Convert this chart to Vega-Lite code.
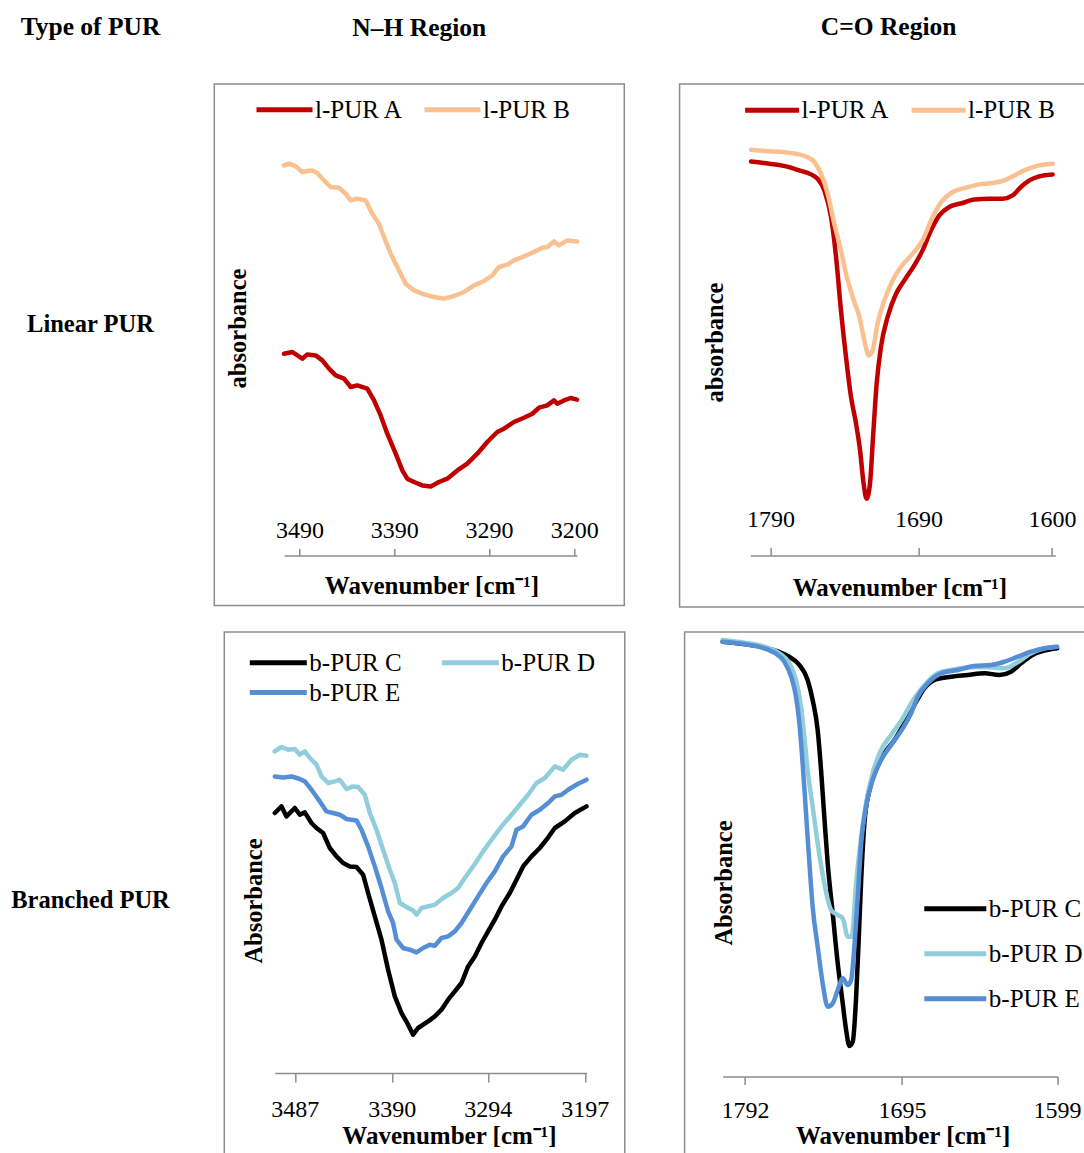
{
  "$schema": "https://vega.github.io/schema/vega-lite/v6.json",
  "padding": {"left": 0, "top": 14, "right": 0, "bottom": 0},
  "spacing": 23,
  "resolve": {"scale": {"color": "independent"}, "legend": {"color": "independent"}},
  "config": {
    "font": "Liberation Serif",
    "view": {"stroke": "#8c8c8c", "strokeWidth": 1.5},
    "axis": {"grid": false, "labelFont": "Liberation Serif", "titleFont": "Liberation Serif", "labelColor": "#000", "titleColor": "#000", "domainColor": "#8c8c8c", "tickColor": "#8c8c8c", "domainWidth": 1.5, "tickWidth": 1.5, "labelFontSize": 24, "titleFontSize": 25, "titleFontWeight": "bold", "labelFlush": false, "labelOverlap": false, "labelBound": false, "format": "d"},
    "legend": {"labelFont": "Liberation Serif", "labelFontSize": 25, "labelColor": "#000", "symbolType": "stroke", "symbolStrokeWidth": 5, "labelLimit": 0},
    "title": {"font": "Liberation Serif", "fontSize": 25.5, "fontWeight": "bold", "color": "#000"}
  },
  "vconcat": [
    {
      "spacing": 55.3,
      "bounds": "flush",
      "resolve": {"scale": {"color": "independent"}, "legend": {"color": "independent"}},
      "hconcat": [
        {
          "width": 159, "height": 521.4,
          "view": {"stroke": null},
          "title": {"text": "Type of PUR", "anchor": "middle", "frame": "group", "baseline": "alphabetic", "offset": 23.8, "dx": 11},
          "data": {"values": [{"label": "Linear PUR"}]},
          "mark": {"type": "text", "font": "Liberation Serif", "fontSize": 24.5, "fontWeight": "bold", "color": "#000", "baseline": "middle", "dx": 11, "dy": -20},
          "encoding": {"text": {"field": "label"}}
        },
        {
          "width": 410, "height": 521.4,
          "title": {"text": "N–H Region", "anchor": "middle", "frame": "group", "baseline": "alphabetic", "offset": 17.8},
          "data": {"values": [
            {"sample": "l-PUR A", "wavenumber": 3506.5, "absorbance": 251.7},
            {"sample": "l-PUR A", "wavenumber": 3497.7, "absorbance": 253.4},
            {"sample": "l-PUR A", "wavenumber": 3487.2, "absorbance": 246.7},
            {"sample": "l-PUR A", "wavenumber": 3481.9, "absorbance": 251.0},
            {"sample": "l-PUR A", "wavenumber": 3473.0, "absorbance": 250.0},
            {"sample": "l-PUR A", "wavenumber": 3466.0, "absorbance": 245.0},
            {"sample": "l-PUR A", "wavenumber": 3459.0, "absorbance": 236.7},
            {"sample": "l-PUR A", "wavenumber": 3451.9, "absorbance": 230.0},
            {"sample": "l-PUR A", "wavenumber": 3443.1, "absorbance": 226.7},
            {"sample": "l-PUR A", "wavenumber": 3436.0, "absorbance": 218.4},
            {"sample": "l-PUR A", "wavenumber": 3429.1, "absorbance": 220.0},
            {"sample": "l-PUR A", "wavenumber": 3418.5, "absorbance": 216.7},
            {"sample": "l-PUR A", "wavenumber": 3411.4, "absorbance": 205.0},
            {"sample": "l-PUR A", "wavenumber": 3404.4, "absorbance": 190.0},
            {"sample": "l-PUR A", "wavenumber": 3397.4, "absorbance": 171.7},
            {"sample": "l-PUR A", "wavenumber": 3388.5, "absorbance": 151.7},
            {"sample": "l-PUR A", "wavenumber": 3381.5, "absorbance": 135.0},
            {"sample": "l-PUR A", "wavenumber": 3376.3, "absorbance": 126.7},
            {"sample": "l-PUR A", "wavenumber": 3369.2, "absorbance": 123.4},
            {"sample": "l-PUR A", "wavenumber": 3360.4, "absorbance": 120.0},
            {"sample": "l-PUR A", "wavenumber": 3351.5, "absorbance": 119.0},
            {"sample": "l-PUR A", "wavenumber": 3342.8, "absorbance": 123.4},
            {"sample": "l-PUR A", "wavenumber": 3334.0, "absorbance": 126.7},
            {"sample": "l-PUR A", "wavenumber": 3323.4, "absorbance": 135.0},
            {"sample": "l-PUR A", "wavenumber": 3312.9, "absorbance": 141.7},
            {"sample": "l-PUR A", "wavenumber": 3302.3, "absorbance": 151.7},
            {"sample": "l-PUR A", "wavenumber": 3291.8, "absorbance": 163.4},
            {"sample": "l-PUR A", "wavenumber": 3281.2, "absorbance": 173.4},
            {"sample": "l-PUR A", "wavenumber": 3274.1, "absorbance": 176.7},
            {"sample": "l-PUR A", "wavenumber": 3263.6, "absorbance": 183.4},
            {"sample": "l-PUR A", "wavenumber": 3253.0, "absorbance": 187.7},
            {"sample": "l-PUR A", "wavenumber": 3244.2, "absorbance": 191.7},
            {"sample": "l-PUR A", "wavenumber": 3237.1, "absorbance": 197.7},
            {"sample": "l-PUR A", "wavenumber": 3228.4, "absorbance": 200.0},
            {"sample": "l-PUR A", "wavenumber": 3221.3, "absorbance": 205.0},
            {"sample": "l-PUR A", "wavenumber": 3217.8, "absorbance": 201.7},
            {"sample": "l-PUR A", "wavenumber": 3210.7, "absorbance": 205.0},
            {"sample": "l-PUR A", "wavenumber": 3203.7, "absorbance": 207.4},
            {"sample": "l-PUR A", "wavenumber": 3197.0, "absorbance": 205.7},
            {"sample": "l-PUR B", "wavenumber": 3506.5, "absorbance": 440.0},
            {"sample": "l-PUR B", "wavenumber": 3501.2, "absorbance": 441.7},
            {"sample": "l-PUR B", "wavenumber": 3494.1, "absorbance": 439.0},
            {"sample": "l-PUR B", "wavenumber": 3487.2, "absorbance": 433.4},
            {"sample": "l-PUR B", "wavenumber": 3481.9, "absorbance": 434.4},
            {"sample": "l-PUR B", "wavenumber": 3476.6, "absorbance": 435.0},
            {"sample": "l-PUR B", "wavenumber": 3471.3, "absorbance": 432.4},
            {"sample": "l-PUR B", "wavenumber": 3464.3, "absorbance": 425.0},
            {"sample": "l-PUR B", "wavenumber": 3457.2, "absorbance": 418.4},
            {"sample": "l-PUR B", "wavenumber": 3448.4, "absorbance": 417.7},
            {"sample": "l-PUR B", "wavenumber": 3441.3, "absorbance": 411.7},
            {"sample": "l-PUR B", "wavenumber": 3436.0, "absorbance": 405.0},
            {"sample": "l-PUR B", "wavenumber": 3429.1, "absorbance": 406.7},
            {"sample": "l-PUR B", "wavenumber": 3420.2, "absorbance": 405.0},
            {"sample": "l-PUR B", "wavenumber": 3413.2, "absorbance": 391.7},
            {"sample": "l-PUR B", "wavenumber": 3406.2, "absorbance": 381.7},
            {"sample": "l-PUR B", "wavenumber": 3400.9, "absorbance": 368.4},
            {"sample": "l-PUR B", "wavenumber": 3393.8, "absorbance": 351.7},
            {"sample": "l-PUR B", "wavenumber": 3385.0, "absorbance": 335.0},
            {"sample": "l-PUR B", "wavenumber": 3378.0, "absorbance": 321.7},
            {"sample": "l-PUR B", "wavenumber": 3369.2, "absorbance": 315.0},
            {"sample": "l-PUR B", "wavenumber": 3358.6, "absorbance": 311.0},
            {"sample": "l-PUR B", "wavenumber": 3348.1, "absorbance": 308.4},
            {"sample": "l-PUR B", "wavenumber": 3337.5, "absorbance": 306.7},
            {"sample": "l-PUR B", "wavenumber": 3326.9, "absorbance": 309.4},
            {"sample": "l-PUR B", "wavenumber": 3316.4, "absorbance": 313.4},
            {"sample": "l-PUR B", "wavenumber": 3305.8, "absorbance": 320.0},
            {"sample": "l-PUR B", "wavenumber": 3295.2, "absorbance": 324.4},
            {"sample": "l-PUR B", "wavenumber": 3286.5, "absorbance": 330.0},
            {"sample": "l-PUR B", "wavenumber": 3279.4, "absorbance": 338.4},
            {"sample": "l-PUR B", "wavenumber": 3270.6, "absorbance": 340.7},
            {"sample": "l-PUR B", "wavenumber": 3263.6, "absorbance": 345.0},
            {"sample": "l-PUR B", "wavenumber": 3253.0, "absorbance": 349.0},
            {"sample": "l-PUR B", "wavenumber": 3242.4, "absorbance": 353.4},
            {"sample": "l-PUR B", "wavenumber": 3233.7, "absorbance": 357.7},
            {"sample": "l-PUR B", "wavenumber": 3228.4, "absorbance": 358.4},
            {"sample": "l-PUR B", "wavenumber": 3221.3, "absorbance": 364.0},
            {"sample": "l-PUR B", "wavenumber": 3216.0, "absorbance": 360.0},
            {"sample": "l-PUR B", "wavenumber": 3207.3, "absorbance": 365.0},
            {"sample": "l-PUR B", "wavenumber": 3197.0, "absorbance": 364.0}
          ]},
          "mark": {"type": "line", "strokeWidth": 4.5, "strokeCap": "round", "strokeJoin": "round"},
          "encoding": {
            "x": {"field": "wavenumber", "type": "quantitative",
              "scale": {"domain": [3506.5, 3197], "range": [69.7, 362.7], "nice": false, "zero": false},
              "axis": {"orient": "top", "offset": -471.4, "values": [3490, 3390, 3290, 3200], "tickSize": 7, "labelPadding": 6, "title": "Wavenumber [cm⁻¹]", "titleX": 217.2, "titleY": 38.3, "titleBaseline": "alphabetic", "titleAlign": "center"}},
            "y": {"field": "absorbance", "type": "quantitative",
              "scale": {"domain": [0, 521.4], "nice": false, "zero": false},
              "axis": {"orient": "left", "domain": false, "ticks": false, "labels": false, "title": "absorbance", "titleFontSize": 24.5, "titleX": 31.4, "titleY": 244, "titleAngle": 270, "titleBaseline": "alphabetic", "titleAlign": "center"}},
            "color": {"field": "sample", "type": "nominal",
              "scale": {"domain": ["l-PUR A", "l-PUR B"], "range": ["#C00000", "#FAC090"]},
              "legend": {"title": null, "orient": "none", "legendX": 39.7, "legendY": -5.1, "direction": "horizontal", "symbolSize": 3136, "labelOffset": 0, "columnPadding": 10}}
          }
        },
        {
          "width": 418, "height": 523,
          "title": {"text": "C=O Region", "anchor": "middle", "frame": "group", "baseline": "alphabetic", "offset": 19.8},
          "data": {"values": [
            {"sample": "l-PUR A", "wavenumber": 1803.1, "absorbance": 445.6},
            {"sample": "l-PUR A", "wavenumber": 1790.8, "absorbance": 443.3},
            {"sample": "l-PUR A", "wavenumber": 1779.5, "absorbance": 440.6},
            {"sample": "l-PUR A", "wavenumber": 1770.5, "absorbance": 436.6},
            {"sample": "l-PUR A", "wavenumber": 1762.6, "absorbance": 432.6},
            {"sample": "l-PUR A", "wavenumber": 1758.2, "absorbance": 428.3},
            {"sample": "l-PUR A", "wavenumber": 1753.6, "absorbance": 416.6},
            {"sample": "l-PUR A", "wavenumber": 1749.1, "absorbance": 390.0},
            {"sample": "l-PUR A", "wavenumber": 1745.7, "absorbance": 350.0},
            {"sample": "l-PUR A", "wavenumber": 1742.4, "absorbance": 296.6},
            {"sample": "l-PUR A", "wavenumber": 1739.0, "absorbance": 250.0},
            {"sample": "l-PUR A", "wavenumber": 1735.6, "absorbance": 210.0},
            {"sample": "l-PUR A", "wavenumber": 1732.2, "absorbance": 183.3},
            {"sample": "l-PUR A", "wavenumber": 1729.5, "absorbance": 156.6},
            {"sample": "l-PUR A", "wavenumber": 1727.1, "absorbance": 123.3},
            {"sample": "l-PUR A", "wavenumber": 1725.1, "absorbance": 108.3},
            {"sample": "l-PUR A", "wavenumber": 1722.8, "absorbance": 123.3},
            {"sample": "l-PUR A", "wavenumber": 1720.6, "absorbance": 173.3},
            {"sample": "l-PUR A", "wavenumber": 1718.3, "absorbance": 223.3},
            {"sample": "l-PUR A", "wavenumber": 1715.4, "absorbance": 260.0},
            {"sample": "l-PUR A", "wavenumber": 1710.9, "absorbance": 290.0},
            {"sample": "l-PUR A", "wavenumber": 1705.2, "absorbance": 313.3},
            {"sample": "l-PUR A", "wavenumber": 1699.6, "absorbance": 326.6},
            {"sample": "l-PUR A", "wavenumber": 1692.9, "absorbance": 341.6},
            {"sample": "l-PUR A", "wavenumber": 1687.3, "absorbance": 356.6},
            {"sample": "l-PUR A", "wavenumber": 1681.6, "absorbance": 376.6},
            {"sample": "l-PUR A", "wavenumber": 1676.0, "absorbance": 391.6},
            {"sample": "l-PUR A", "wavenumber": 1669.3, "absorbance": 400.0},
            {"sample": "l-PUR A", "wavenumber": 1660.3, "absorbance": 404.0},
            {"sample": "l-PUR A", "wavenumber": 1652.4, "absorbance": 407.6},
            {"sample": "l-PUR A", "wavenumber": 1642.2, "absorbance": 408.3},
            {"sample": "l-PUR A", "wavenumber": 1633.3, "absorbance": 408.3},
            {"sample": "l-PUR A", "wavenumber": 1626.5, "absorbance": 411.6},
            {"sample": "l-PUR A", "wavenumber": 1620.9, "absorbance": 420.0},
            {"sample": "l-PUR A", "wavenumber": 1615.2, "absorbance": 426.6},
            {"sample": "l-PUR A", "wavenumber": 1608.5, "absorbance": 430.6},
            {"sample": "l-PUR A", "wavenumber": 1599.5, "absorbance": 432.6},
            {"sample": "l-PUR B", "wavenumber": 1803.1, "absorbance": 457.3},
            {"sample": "l-PUR B", "wavenumber": 1793.0, "absorbance": 456.0},
            {"sample": "l-PUR B", "wavenumber": 1781.8, "absorbance": 455.0},
            {"sample": "l-PUR B", "wavenumber": 1772.8, "absorbance": 453.3},
            {"sample": "l-PUR B", "wavenumber": 1766.0, "absorbance": 450.6},
            {"sample": "l-PUR B", "wavenumber": 1760.4, "absorbance": 445.0},
            {"sample": "l-PUR B", "wavenumber": 1755.9, "absorbance": 433.3},
            {"sample": "l-PUR B", "wavenumber": 1751.4, "absorbance": 413.3},
            {"sample": "l-PUR B", "wavenumber": 1746.9, "absorbance": 383.3},
            {"sample": "l-PUR B", "wavenumber": 1742.4, "absorbance": 356.6},
            {"sample": "l-PUR B", "wavenumber": 1739.0, "absorbance": 333.3},
            {"sample": "l-PUR B", "wavenumber": 1734.5, "absorbance": 310.0},
            {"sample": "l-PUR B", "wavenumber": 1730.0, "absorbance": 290.0},
            {"sample": "l-PUR B", "wavenumber": 1726.6, "absorbance": 266.6},
            {"sample": "l-PUR B", "wavenumber": 1723.7, "absorbance": 251.6},
            {"sample": "l-PUR B", "wavenumber": 1721.0, "absorbance": 256.6},
            {"sample": "l-PUR B", "wavenumber": 1717.7, "absorbance": 283.3},
            {"sample": "l-PUR B", "wavenumber": 1713.1, "absorbance": 306.6},
            {"sample": "l-PUR B", "wavenumber": 1707.5, "absorbance": 326.6},
            {"sample": "l-PUR B", "wavenumber": 1701.9, "absorbance": 340.0},
            {"sample": "l-PUR B", "wavenumber": 1694.0, "absorbance": 353.3},
            {"sample": "l-PUR B", "wavenumber": 1687.3, "absorbance": 366.6},
            {"sample": "l-PUR B", "wavenumber": 1680.5, "absorbance": 390.0},
            {"sample": "l-PUR B", "wavenumber": 1673.8, "absorbance": 406.6},
            {"sample": "l-PUR B", "wavenumber": 1667.0, "absorbance": 415.0},
            {"sample": "l-PUR B", "wavenumber": 1658.0, "absorbance": 419.3},
            {"sample": "l-PUR B", "wavenumber": 1649.0, "absorbance": 422.6},
            {"sample": "l-PUR B", "wavenumber": 1640.0, "absorbance": 424.0},
            {"sample": "l-PUR B", "wavenumber": 1633.3, "absorbance": 426.0},
            {"sample": "l-PUR B", "wavenumber": 1626.5, "absorbance": 430.6},
            {"sample": "l-PUR B", "wavenumber": 1617.5, "absorbance": 437.3},
            {"sample": "l-PUR B", "wavenumber": 1608.5, "absorbance": 441.6},
            {"sample": "l-PUR B", "wavenumber": 1599.5, "absorbance": 443.3}
          ]},
          "mark": {"type": "line", "strokeWidth": 4.5, "strokeCap": "round", "strokeJoin": "round", "interpolate": "monotone"},
          "encoding": {
            "x": {"field": "wavenumber", "type": "quantitative",
              "scale": {"domain": [1803.6, 1597.7], "range": [70.7, 375.7], "nice": false, "zero": false},
              "axis": {"orient": "top", "offset": -471.4, "values": [1790, 1690, 1600], "tickSize": 8, "labelPadding": 15.6, "title": "Wavenumber [cm⁻¹]", "titleX": 219.7, "titleY": 40, "titleBaseline": "alphabetic", "titleAlign": "center"}},
            "y": {"field": "absorbance", "type": "quantitative",
              "scale": {"domain": [0, 523], "nice": false, "zero": false},
              "axis": {"orient": "left", "domain": false, "ticks": false, "labels": false, "title": "absorbance", "titleFontSize": 24.5, "titleX": 43, "titleY": 258, "titleAngle": 270, "titleBaseline": "alphabetic", "titleAlign": "center"}},
            "color": {"field": "sample", "type": "nominal",
              "scale": {"domain": ["l-PUR A", "l-PUR B"], "range": ["#C00000", "#FAC090"]},
              "legend": {"title": null, "orient": "none", "legendX": 63, "legendY": -3.5, "direction": "horizontal", "symbolSize": 2916, "labelOffset": 0, "columnPadding": 10.5}}
          }
        }
      ]
    },
    {
      "spacing": 59.3,
      "bounds": "flush",
      "resolve": {"scale": {"color": "independent"}, "legend": {"color": "independent"}},
      "hconcat": [
        {
          "width": 164.2, "height": 540,
          "view": {"stroke": null},
          "data": {"values": [{"label": "Branched PUR"}]},
          "mark": {"type": "text", "font": "Liberation Serif", "fontSize": 24.5, "fontWeight": "bold", "color": "#000", "baseline": "middle", "dx": 8.4, "dy": -1},
          "encoding": {"text": {"field": "label"}}
        },
        {
          "width": 400.5, "height": 540,
          "data": {"values": [
            {"sample": "b-PUR C", "wavenumber": 3507.0, "absorbance": 359.0},
            {"sample": "b-PUR C", "wavenumber": 3500.3, "absorbance": 365.6},
            {"sample": "b-PUR C", "wavenumber": 3495.3, "absorbance": 355.6},
            {"sample": "b-PUR C", "wavenumber": 3487.0, "absorbance": 364.0},
            {"sample": "b-PUR C", "wavenumber": 3482.0, "absorbance": 357.3},
            {"sample": "b-PUR C", "wavenumber": 3477.0, "absorbance": 359.6},
            {"sample": "b-PUR C", "wavenumber": 3470.3, "absorbance": 349.0},
            {"sample": "b-PUR C", "wavenumber": 3465.3, "absorbance": 344.0},
            {"sample": "b-PUR C", "wavenumber": 3458.7, "absorbance": 339.0},
            {"sample": "b-PUR C", "wavenumber": 3452.0, "absorbance": 324.0},
            {"sample": "b-PUR C", "wavenumber": 3445.3, "absorbance": 315.6},
            {"sample": "b-PUR C", "wavenumber": 3438.7, "absorbance": 309.0},
            {"sample": "b-PUR C", "wavenumber": 3432.0, "absorbance": 305.6},
            {"sample": "b-PUR C", "wavenumber": 3425.3, "absorbance": 305.0},
            {"sample": "b-PUR C", "wavenumber": 3418.7, "absorbance": 297.3},
            {"sample": "b-PUR C", "wavenumber": 3413.7, "absorbance": 279.0},
            {"sample": "b-PUR C", "wavenumber": 3407.0, "absorbance": 255.6},
            {"sample": "b-PUR C", "wavenumber": 3400.3, "absorbance": 232.3},
            {"sample": "b-PUR C", "wavenumber": 3393.7, "absorbance": 202.3},
            {"sample": "b-PUR C", "wavenumber": 3387.0, "absorbance": 175.6},
            {"sample": "b-PUR C", "wavenumber": 3380.3, "absorbance": 159.0},
            {"sample": "b-PUR C", "wavenumber": 3373.7, "absorbance": 147.3},
            {"sample": "b-PUR C", "wavenumber": 3368.7, "absorbance": 137.3},
            {"sample": "b-PUR C", "wavenumber": 3363.7, "absorbance": 144.0},
            {"sample": "b-PUR C", "wavenumber": 3358.7, "absorbance": 147.3},
            {"sample": "b-PUR C", "wavenumber": 3353.7, "absorbance": 150.6},
            {"sample": "b-PUR C", "wavenumber": 3347.0, "absorbance": 155.6},
            {"sample": "b-PUR C", "wavenumber": 3340.3, "absorbance": 162.3},
            {"sample": "b-PUR C", "wavenumber": 3333.7, "absorbance": 172.3},
            {"sample": "b-PUR C", "wavenumber": 3327.0, "absorbance": 180.6},
            {"sample": "b-PUR C", "wavenumber": 3320.3, "absorbance": 189.0},
            {"sample": "b-PUR C", "wavenumber": 3313.7, "absorbance": 205.6},
            {"sample": "b-PUR C", "wavenumber": 3307.0, "absorbance": 215.6},
            {"sample": "b-PUR C", "wavenumber": 3300.3, "absorbance": 229.0},
            {"sample": "b-PUR C", "wavenumber": 3293.7, "absorbance": 240.6},
            {"sample": "b-PUR C", "wavenumber": 3287.0, "absorbance": 252.3},
            {"sample": "b-PUR C", "wavenumber": 3280.3, "absorbance": 265.6},
            {"sample": "b-PUR C", "wavenumber": 3272.0, "absorbance": 279.0},
            {"sample": "b-PUR C", "wavenumber": 3265.3, "absorbance": 292.3},
            {"sample": "b-PUR C", "wavenumber": 3258.7, "absorbance": 305.6},
            {"sample": "b-PUR C", "wavenumber": 3250.3, "absorbance": 315.6},
            {"sample": "b-PUR C", "wavenumber": 3242.0, "absorbance": 324.0},
            {"sample": "b-PUR C", "wavenumber": 3235.3, "absorbance": 332.3},
            {"sample": "b-PUR C", "wavenumber": 3227.0, "absorbance": 344.0},
            {"sample": "b-PUR C", "wavenumber": 3217.0, "absorbance": 350.6},
            {"sample": "b-PUR C", "wavenumber": 3207.0, "absorbance": 359.0},
            {"sample": "b-PUR C", "wavenumber": 3195.3, "absorbance": 365.6},
            {"sample": "b-PUR D", "wavenumber": 3507.0, "absorbance": 420.6},
            {"sample": "b-PUR D", "wavenumber": 3500.3, "absorbance": 425.0},
            {"sample": "b-PUR D", "wavenumber": 3493.7, "absorbance": 422.3},
            {"sample": "b-PUR D", "wavenumber": 3487.0, "absorbance": 423.0},
            {"sample": "b-PUR D", "wavenumber": 3482.0, "absorbance": 417.3},
            {"sample": "b-PUR D", "wavenumber": 3477.0, "absorbance": 420.6},
            {"sample": "b-PUR D", "wavenumber": 3472.0, "absorbance": 414.0},
            {"sample": "b-PUR D", "wavenumber": 3465.3, "absorbance": 407.3},
            {"sample": "b-PUR D", "wavenumber": 3460.3, "absorbance": 395.6},
            {"sample": "b-PUR D", "wavenumber": 3453.7, "absorbance": 389.0},
            {"sample": "b-PUR D", "wavenumber": 3447.0, "absorbance": 390.6},
            {"sample": "b-PUR D", "wavenumber": 3442.0, "absorbance": 392.3},
            {"sample": "b-PUR D", "wavenumber": 3435.3, "absorbance": 383.0},
            {"sample": "b-PUR D", "wavenumber": 3428.7, "absorbance": 385.6},
            {"sample": "b-PUR D", "wavenumber": 3423.7, "absorbance": 385.0},
            {"sample": "b-PUR D", "wavenumber": 3417.0, "absorbance": 377.3},
            {"sample": "b-PUR D", "wavenumber": 3412.0, "absorbance": 359.0},
            {"sample": "b-PUR D", "wavenumber": 3405.3, "absorbance": 342.3},
            {"sample": "b-PUR D", "wavenumber": 3398.7, "absorbance": 322.3},
            {"sample": "b-PUR D", "wavenumber": 3392.0, "absorbance": 302.3},
            {"sample": "b-PUR D", "wavenumber": 3387.0, "absorbance": 289.0},
            {"sample": "b-PUR D", "wavenumber": 3382.0, "absorbance": 269.0},
            {"sample": "b-PUR D", "wavenumber": 3375.3, "absorbance": 265.0},
            {"sample": "b-PUR D", "wavenumber": 3368.7, "absorbance": 261.6},
            {"sample": "b-PUR D", "wavenumber": 3365.3, "absorbance": 257.3},
            {"sample": "b-PUR D", "wavenumber": 3360.3, "absorbance": 264.0},
            {"sample": "b-PUR D", "wavenumber": 3353.7, "absorbance": 265.6},
            {"sample": "b-PUR D", "wavenumber": 3347.0, "absorbance": 267.3},
            {"sample": "b-PUR D", "wavenumber": 3338.7, "absorbance": 274.0},
            {"sample": "b-PUR D", "wavenumber": 3330.3, "absorbance": 279.0},
            {"sample": "b-PUR D", "wavenumber": 3323.7, "absorbance": 284.0},
            {"sample": "b-PUR D", "wavenumber": 3317.0, "absorbance": 294.0},
            {"sample": "b-PUR D", "wavenumber": 3308.7, "absorbance": 305.6},
            {"sample": "b-PUR D", "wavenumber": 3298.7, "absorbance": 320.6},
            {"sample": "b-PUR D", "wavenumber": 3290.3, "absorbance": 332.3},
            {"sample": "b-PUR D", "wavenumber": 3280.3, "absorbance": 345.6},
            {"sample": "b-PUR D", "wavenumber": 3270.3, "absorbance": 357.3},
            {"sample": "b-PUR D", "wavenumber": 3262.0, "absorbance": 367.3},
            {"sample": "b-PUR D", "wavenumber": 3253.7, "absorbance": 377.3},
            {"sample": "b-PUR D", "wavenumber": 3245.3, "absorbance": 389.0},
            {"sample": "b-PUR D", "wavenumber": 3237.0, "absorbance": 394.0},
            {"sample": "b-PUR D", "wavenumber": 3227.0, "absorbance": 405.6},
            {"sample": "b-PUR D", "wavenumber": 3218.7, "absorbance": 402.3},
            {"sample": "b-PUR D", "wavenumber": 3210.3, "absorbance": 412.3},
            {"sample": "b-PUR D", "wavenumber": 3202.0, "absorbance": 417.3},
            {"sample": "b-PUR D", "wavenumber": 3195.3, "absorbance": 416.3},
            {"sample": "b-PUR E", "wavenumber": 3507.0, "absorbance": 395.6},
            {"sample": "b-PUR E", "wavenumber": 3498.7, "absorbance": 394.6},
            {"sample": "b-PUR E", "wavenumber": 3490.3, "absorbance": 395.6},
            {"sample": "b-PUR E", "wavenumber": 3482.0, "absorbance": 393.0},
            {"sample": "b-PUR E", "wavenumber": 3477.0, "absorbance": 390.6},
            {"sample": "b-PUR E", "wavenumber": 3470.3, "absorbance": 382.3},
            {"sample": "b-PUR E", "wavenumber": 3462.0, "absorbance": 370.6},
            {"sample": "b-PUR E", "wavenumber": 3455.3, "absorbance": 360.6},
            {"sample": "b-PUR E", "wavenumber": 3448.7, "absorbance": 359.0},
            {"sample": "b-PUR E", "wavenumber": 3442.0, "absorbance": 357.3},
            {"sample": "b-PUR E", "wavenumber": 3435.3, "absorbance": 353.0},
            {"sample": "b-PUR E", "wavenumber": 3425.3, "absorbance": 351.6},
            {"sample": "b-PUR E", "wavenumber": 3420.3, "absorbance": 342.3},
            {"sample": "b-PUR E", "wavenumber": 3413.7, "absorbance": 325.6},
            {"sample": "b-PUR E", "wavenumber": 3407.0, "absorbance": 305.6},
            {"sample": "b-PUR E", "wavenumber": 3400.3, "absorbance": 284.0},
            {"sample": "b-PUR E", "wavenumber": 3393.7, "absorbance": 260.6},
            {"sample": "b-PUR E", "wavenumber": 3388.7, "absorbance": 249.0},
            {"sample": "b-PUR E", "wavenumber": 3385.3, "absorbance": 232.3},
            {"sample": "b-PUR E", "wavenumber": 3378.7, "absorbance": 224.0},
            {"sample": "b-PUR E", "wavenumber": 3372.0, "absorbance": 222.3},
            {"sample": "b-PUR E", "wavenumber": 3365.3, "absorbance": 219.6},
            {"sample": "b-PUR E", "wavenumber": 3358.7, "absorbance": 224.0},
            {"sample": "b-PUR E", "wavenumber": 3352.0, "absorbance": 227.3},
            {"sample": "b-PUR E", "wavenumber": 3347.0, "absorbance": 226.3},
            {"sample": "b-PUR E", "wavenumber": 3340.3, "absorbance": 234.0},
            {"sample": "b-PUR E", "wavenumber": 3333.7, "absorbance": 235.6},
            {"sample": "b-PUR E", "wavenumber": 3327.0, "absorbance": 240.6},
            {"sample": "b-PUR E", "wavenumber": 3320.3, "absorbance": 249.0},
            {"sample": "b-PUR E", "wavenumber": 3312.0, "absorbance": 262.3},
            {"sample": "b-PUR E", "wavenumber": 3303.7, "absorbance": 275.6},
            {"sample": "b-PUR E", "wavenumber": 3295.3, "absorbance": 289.0},
            {"sample": "b-PUR E", "wavenumber": 3287.0, "absorbance": 300.6},
            {"sample": "b-PUR E", "wavenumber": 3278.7, "absorbance": 315.6},
            {"sample": "b-PUR E", "wavenumber": 3270.3, "absorbance": 325.6},
            {"sample": "b-PUR E", "wavenumber": 3265.3, "absorbance": 342.3},
            {"sample": "b-PUR E", "wavenumber": 3258.7, "absorbance": 345.6},
            {"sample": "b-PUR E", "wavenumber": 3250.3, "absorbance": 357.3},
            {"sample": "b-PUR E", "wavenumber": 3242.0, "absorbance": 362.3},
            {"sample": "b-PUR E", "wavenumber": 3233.7, "absorbance": 369.0},
            {"sample": "b-PUR E", "wavenumber": 3227.0, "absorbance": 375.6},
            {"sample": "b-PUR E", "wavenumber": 3220.3, "absorbance": 377.3},
            {"sample": "b-PUR E", "wavenumber": 3213.7, "absorbance": 382.3},
            {"sample": "b-PUR E", "wavenumber": 3203.7, "absorbance": 388.3},
            {"sample": "b-PUR E", "wavenumber": 3195.3, "absorbance": 392.3}
          ]},
          "mark": {"type": "line", "strokeWidth": 4.5, "strokeCap": "round", "strokeJoin": "round"},
          "encoding": {
            "x": {"field": "wavenumber", "type": "quantitative",
              "scale": {"domain": [3507, 3195.3], "range": [50.5, 362.2], "nice": false, "zero": false},
              "axis": {"orient": "bottom", "offset": -99, "values": [3487, 3390, 3294, 3197], "tickSize": 9, "labelPadding": 15.5, "title": "Wavenumber [cm⁻¹]", "titleX": 224.7, "titleY": 70, "titleBaseline": "alphabetic", "titleAlign": "center"}},
            "y": {"field": "absorbance", "type": "quantitative",
              "scale": {"domain": [0, 540], "nice": false, "zero": false},
              "axis": {"orient": "left", "domain": false, "ticks": false, "labels": false, "title": "Absorbance", "titleFontSize": 24.5, "titleX": 37.2, "titleY": 268.5, "titleAngle": 270, "titleBaseline": "alphabetic", "titleAlign": "center"}},
            "color": {"field": "sample", "type": "nominal",
              "scale": {"domain": ["b-PUR C", "b-PUR D", "b-PUR E"], "range": ["#000000", "#92CDDC", "#558ED5"]},
              "legend": {"title": null, "orient": "none", "legendX": 56, "legendY": 16, "direction": "horizontal", "columns": 2, "gridAlign": "all", "symbolType": "M-3.75,0L1,0", "symbolSize": 576, "labelOffset": 0, "columnPadding": 28, "rowPadding": 2}}
          }
        },
        {
          "width": 420, "height": 540,
          "data": {"values": [
            {"sample": "b-PUR C", "wavenumber": 1805.9, "absorbance": 530.3},
            {"sample": "b-PUR C", "wavenumber": 1788.3, "absorbance": 527.0},
            {"sample": "b-PUR C", "wavenumber": 1775.9, "absorbance": 522.7},
            {"sample": "b-PUR C", "wavenumber": 1765.6, "absorbance": 516.0},
            {"sample": "b-PUR C", "wavenumber": 1758.4, "absorbance": 507.0},
            {"sample": "b-PUR C", "wavenumber": 1753.3, "absorbance": 492.0},
            {"sample": "b-PUR C", "wavenumber": 1750.2, "absorbance": 472.0},
            {"sample": "b-PUR C", "wavenumber": 1747.1, "absorbance": 442.0},
            {"sample": "b-PUR C", "wavenumber": 1745.0, "absorbance": 402.0},
            {"sample": "b-PUR C", "wavenumber": 1743.0, "absorbance": 355.3},
            {"sample": "b-PUR C", "wavenumber": 1740.9, "absorbance": 308.7},
            {"sample": "b-PUR C", "wavenumber": 1737.8, "absorbance": 258.7},
            {"sample": "b-PUR C", "wavenumber": 1734.7, "absorbance": 208.7},
            {"sample": "b-PUR C", "wavenumber": 1731.6, "absorbance": 168.7},
            {"sample": "b-PUR C", "wavenumber": 1729.5, "absorbance": 142.0},
            {"sample": "b-PUR C", "wavenumber": 1727.5, "absorbance": 126.0},
            {"sample": "b-PUR C", "wavenumber": 1725.4, "absorbance": 130.3},
            {"sample": "b-PUR C", "wavenumber": 1723.3, "absorbance": 175.3},
            {"sample": "b-PUR C", "wavenumber": 1721.9, "absorbance": 225.3},
            {"sample": "b-PUR C", "wavenumber": 1720.2, "absorbance": 292.0},
            {"sample": "b-PUR C", "wavenumber": 1718.2, "absorbance": 348.7},
            {"sample": "b-PUR C", "wavenumber": 1715.1, "absorbance": 382.0},
            {"sample": "b-PUR C", "wavenumber": 1711.0, "absorbance": 402.0},
            {"sample": "b-PUR C", "wavenumber": 1705.8, "absorbance": 418.7},
            {"sample": "b-PUR C", "wavenumber": 1699.6, "absorbance": 432.0},
            {"sample": "b-PUR C", "wavenumber": 1693.5, "absorbance": 448.7},
            {"sample": "b-PUR C", "wavenumber": 1687.3, "absorbance": 467.0},
            {"sample": "b-PUR C", "wavenumber": 1681.1, "absorbance": 483.7},
            {"sample": "b-PUR C", "wavenumber": 1673.9, "absorbance": 492.7},
            {"sample": "b-PUR C", "wavenumber": 1664.6, "absorbance": 495.3},
            {"sample": "b-PUR C", "wavenumber": 1654.3, "absorbance": 497.0},
            {"sample": "b-PUR C", "wavenumber": 1644.0, "absorbance": 498.7},
            {"sample": "b-PUR C", "wavenumber": 1634.7, "absorbance": 497.0},
            {"sample": "b-PUR C", "wavenumber": 1627.5, "absorbance": 500.3},
            {"sample": "b-PUR C", "wavenumber": 1621.3, "absorbance": 508.7},
            {"sample": "b-PUR C", "wavenumber": 1614.1, "absorbance": 517.0},
            {"sample": "b-PUR C", "wavenumber": 1606.9, "absorbance": 521.3},
            {"sample": "b-PUR C", "wavenumber": 1599.0, "absorbance": 523.7},
            {"sample": "b-PUR D", "wavenumber": 1805.9, "absorbance": 532.0},
            {"sample": "b-PUR D", "wavenumber": 1792.4, "absorbance": 529.3},
            {"sample": "b-PUR D", "wavenumber": 1780.1, "absorbance": 525.3},
            {"sample": "b-PUR D", "wavenumber": 1770.8, "absorbance": 518.7},
            {"sample": "b-PUR D", "wavenumber": 1764.6, "absorbance": 508.7},
            {"sample": "b-PUR D", "wavenumber": 1760.5, "absorbance": 492.0},
            {"sample": "b-PUR D", "wavenumber": 1757.4, "absorbance": 465.3},
            {"sample": "b-PUR D", "wavenumber": 1755.3, "absorbance": 435.3},
            {"sample": "b-PUR D", "wavenumber": 1753.3, "absorbance": 402.0},
            {"sample": "b-PUR D", "wavenumber": 1750.2, "absorbance": 365.3},
            {"sample": "b-PUR D", "wavenumber": 1747.1, "absorbance": 328.7},
            {"sample": "b-PUR D", "wavenumber": 1743.0, "absorbance": 288.7},
            {"sample": "b-PUR D", "wavenumber": 1738.8, "absorbance": 262.0},
            {"sample": "b-PUR D", "wavenumber": 1734.7, "absorbance": 257.0},
            {"sample": "b-PUR D", "wavenumber": 1731.6, "absorbance": 253.7},
            {"sample": "b-PUR D", "wavenumber": 1728.5, "absorbance": 235.3},
            {"sample": "b-PUR D", "wavenumber": 1726.1, "absorbance": 235.3},
            {"sample": "b-PUR D", "wavenumber": 1723.3, "absorbance": 288.7},
            {"sample": "b-PUR D", "wavenumber": 1720.2, "absorbance": 335.3},
            {"sample": "b-PUR D", "wavenumber": 1717.2, "absorbance": 368.7},
            {"sample": "b-PUR D", "wavenumber": 1713.1, "absorbance": 398.7},
            {"sample": "b-PUR D", "wavenumber": 1707.9, "absorbance": 422.0},
            {"sample": "b-PUR D", "wavenumber": 1701.7, "absorbance": 437.0},
            {"sample": "b-PUR D", "wavenumber": 1694.5, "absorbance": 453.7},
            {"sample": "b-PUR D", "wavenumber": 1687.3, "absorbance": 473.7},
            {"sample": "b-PUR D", "wavenumber": 1680.0, "absorbance": 488.7},
            {"sample": "b-PUR D", "wavenumber": 1672.9, "absorbance": 498.7},
            {"sample": "b-PUR D", "wavenumber": 1662.5, "absorbance": 502.7},
            {"sample": "b-PUR D", "wavenumber": 1652.2, "absorbance": 504.7},
            {"sample": "b-PUR D", "wavenumber": 1641.9, "absorbance": 504.7},
            {"sample": "b-PUR D", "wavenumber": 1631.6, "absorbance": 503.7},
            {"sample": "b-PUR D", "wavenumber": 1624.4, "absorbance": 508.7},
            {"sample": "b-PUR D", "wavenumber": 1615.1, "absorbance": 518.7},
            {"sample": "b-PUR D", "wavenumber": 1606.9, "absorbance": 523.7},
            {"sample": "b-PUR D", "wavenumber": 1599.0, "absorbance": 525.3},
            {"sample": "b-PUR E", "wavenumber": 1805.9, "absorbance": 530.3},
            {"sample": "b-PUR E", "wavenumber": 1792.4, "absorbance": 528.0},
            {"sample": "b-PUR E", "wavenumber": 1782.1, "absorbance": 524.7},
            {"sample": "b-PUR E", "wavenumber": 1773.9, "absorbance": 519.3},
            {"sample": "b-PUR E", "wavenumber": 1767.7, "absorbance": 510.3},
            {"sample": "b-PUR E", "wavenumber": 1763.5, "absorbance": 495.3},
            {"sample": "b-PUR E", "wavenumber": 1760.5, "absorbance": 475.3},
            {"sample": "b-PUR E", "wavenumber": 1758.4, "absorbance": 448.7},
            {"sample": "b-PUR E", "wavenumber": 1756.4, "absorbance": 408.7},
            {"sample": "b-PUR E", "wavenumber": 1754.3, "absorbance": 358.7},
            {"sample": "b-PUR E", "wavenumber": 1752.2, "absorbance": 308.7},
            {"sample": "b-PUR E", "wavenumber": 1750.2, "absorbance": 265.3},
            {"sample": "b-PUR E", "wavenumber": 1747.1, "absorbance": 225.3},
            {"sample": "b-PUR E", "wavenumber": 1744.0, "absorbance": 188.7},
            {"sample": "b-PUR E", "wavenumber": 1740.9, "absorbance": 165.3},
            {"sample": "b-PUR E", "wavenumber": 1737.8, "absorbance": 168.7},
            {"sample": "b-PUR E", "wavenumber": 1734.7, "absorbance": 182.0},
            {"sample": "b-PUR E", "wavenumber": 1731.6, "absorbance": 193.7},
            {"sample": "b-PUR E", "wavenumber": 1728.5, "absorbance": 187.0},
            {"sample": "b-PUR E", "wavenumber": 1726.4, "absorbance": 192.0},
            {"sample": "b-PUR E", "wavenumber": 1724.4, "absorbance": 225.3},
            {"sample": "b-PUR E", "wavenumber": 1722.3, "absorbance": 275.3},
            {"sample": "b-PUR E", "wavenumber": 1720.2, "absorbance": 328.7},
            {"sample": "b-PUR E", "wavenumber": 1717.2, "absorbance": 365.3},
            {"sample": "b-PUR E", "wavenumber": 1713.1, "absorbance": 392.0},
            {"sample": "b-PUR E", "wavenumber": 1707.9, "absorbance": 412.0},
            {"sample": "b-PUR E", "wavenumber": 1701.7, "absorbance": 427.0},
            {"sample": "b-PUR E", "wavenumber": 1694.5, "absorbance": 443.7},
            {"sample": "b-PUR E", "wavenumber": 1689.3, "absorbance": 458.7},
            {"sample": "b-PUR E", "wavenumber": 1685.2, "absorbance": 475.3},
            {"sample": "b-PUR E", "wavenumber": 1679.0, "absorbance": 488.7},
            {"sample": "b-PUR E", "wavenumber": 1670.8, "absorbance": 498.7},
            {"sample": "b-PUR E", "wavenumber": 1660.5, "absorbance": 502.0},
            {"sample": "b-PUR E", "wavenumber": 1650.2, "absorbance": 506.0},
            {"sample": "b-PUR E", "wavenumber": 1639.8, "absorbance": 507.0},
            {"sample": "b-PUR E", "wavenumber": 1631.6, "absorbance": 510.3},
            {"sample": "b-PUR E", "wavenumber": 1623.4, "absorbance": 515.3},
            {"sample": "b-PUR E", "wavenumber": 1615.1, "absorbance": 520.3},
            {"sample": "b-PUR E", "wavenumber": 1606.9, "absorbance": 523.7},
            {"sample": "b-PUR E", "wavenumber": 1599.0, "absorbance": 525.3}
          ]},
          "mark": {"type": "line", "strokeWidth": 4.5, "strokeCap": "round", "strokeJoin": "round", "interpolate": "monotone"},
          "encoding": {
            "x": {"field": "wavenumber", "type": "quantitative",
              "scale": {"domain": [1805.9, 1598.7], "range": [38, 373], "nice": false, "zero": false},
              "axis": {"orient": "bottom", "offset": -95.6, "values": [1792, 1695, 1599], "tickSize": 8, "labelPadding": 14, "title": "Wavenumber [cm⁻¹]", "titleX": 218, "titleY": 67, "titleBaseline": "alphabetic", "titleAlign": "center"}},
            "y": {"field": "absorbance", "type": "quantitative",
              "scale": {"domain": [0, 540], "nice": false, "zero": false},
              "axis": {"orient": "left", "domain": false, "ticks": false, "labels": false, "title": "Absorbance", "titleFontSize": 24.5, "titleX": 46.4, "titleY": 250.5, "titleAngle": 270, "titleBaseline": "alphabetic", "titleAlign": "center"}},
            "color": {"field": "sample", "type": "nominal",
              "scale": {"domain": ["b-PUR C", "b-PUR D", "b-PUR E"], "range": ["#000000", "#92CDDC", "#558ED5"]},
              "legend": {"title": null, "orient": "none", "legendX": 275.2, "legendY": 262.3, "direction": "vertical", "symbolType": "M-4.17,0L1,0", "symbolSize": 576, "labelOffset": 0, "rowPadding": 17}}
          }
        }
      ]
    }
  ]
}
